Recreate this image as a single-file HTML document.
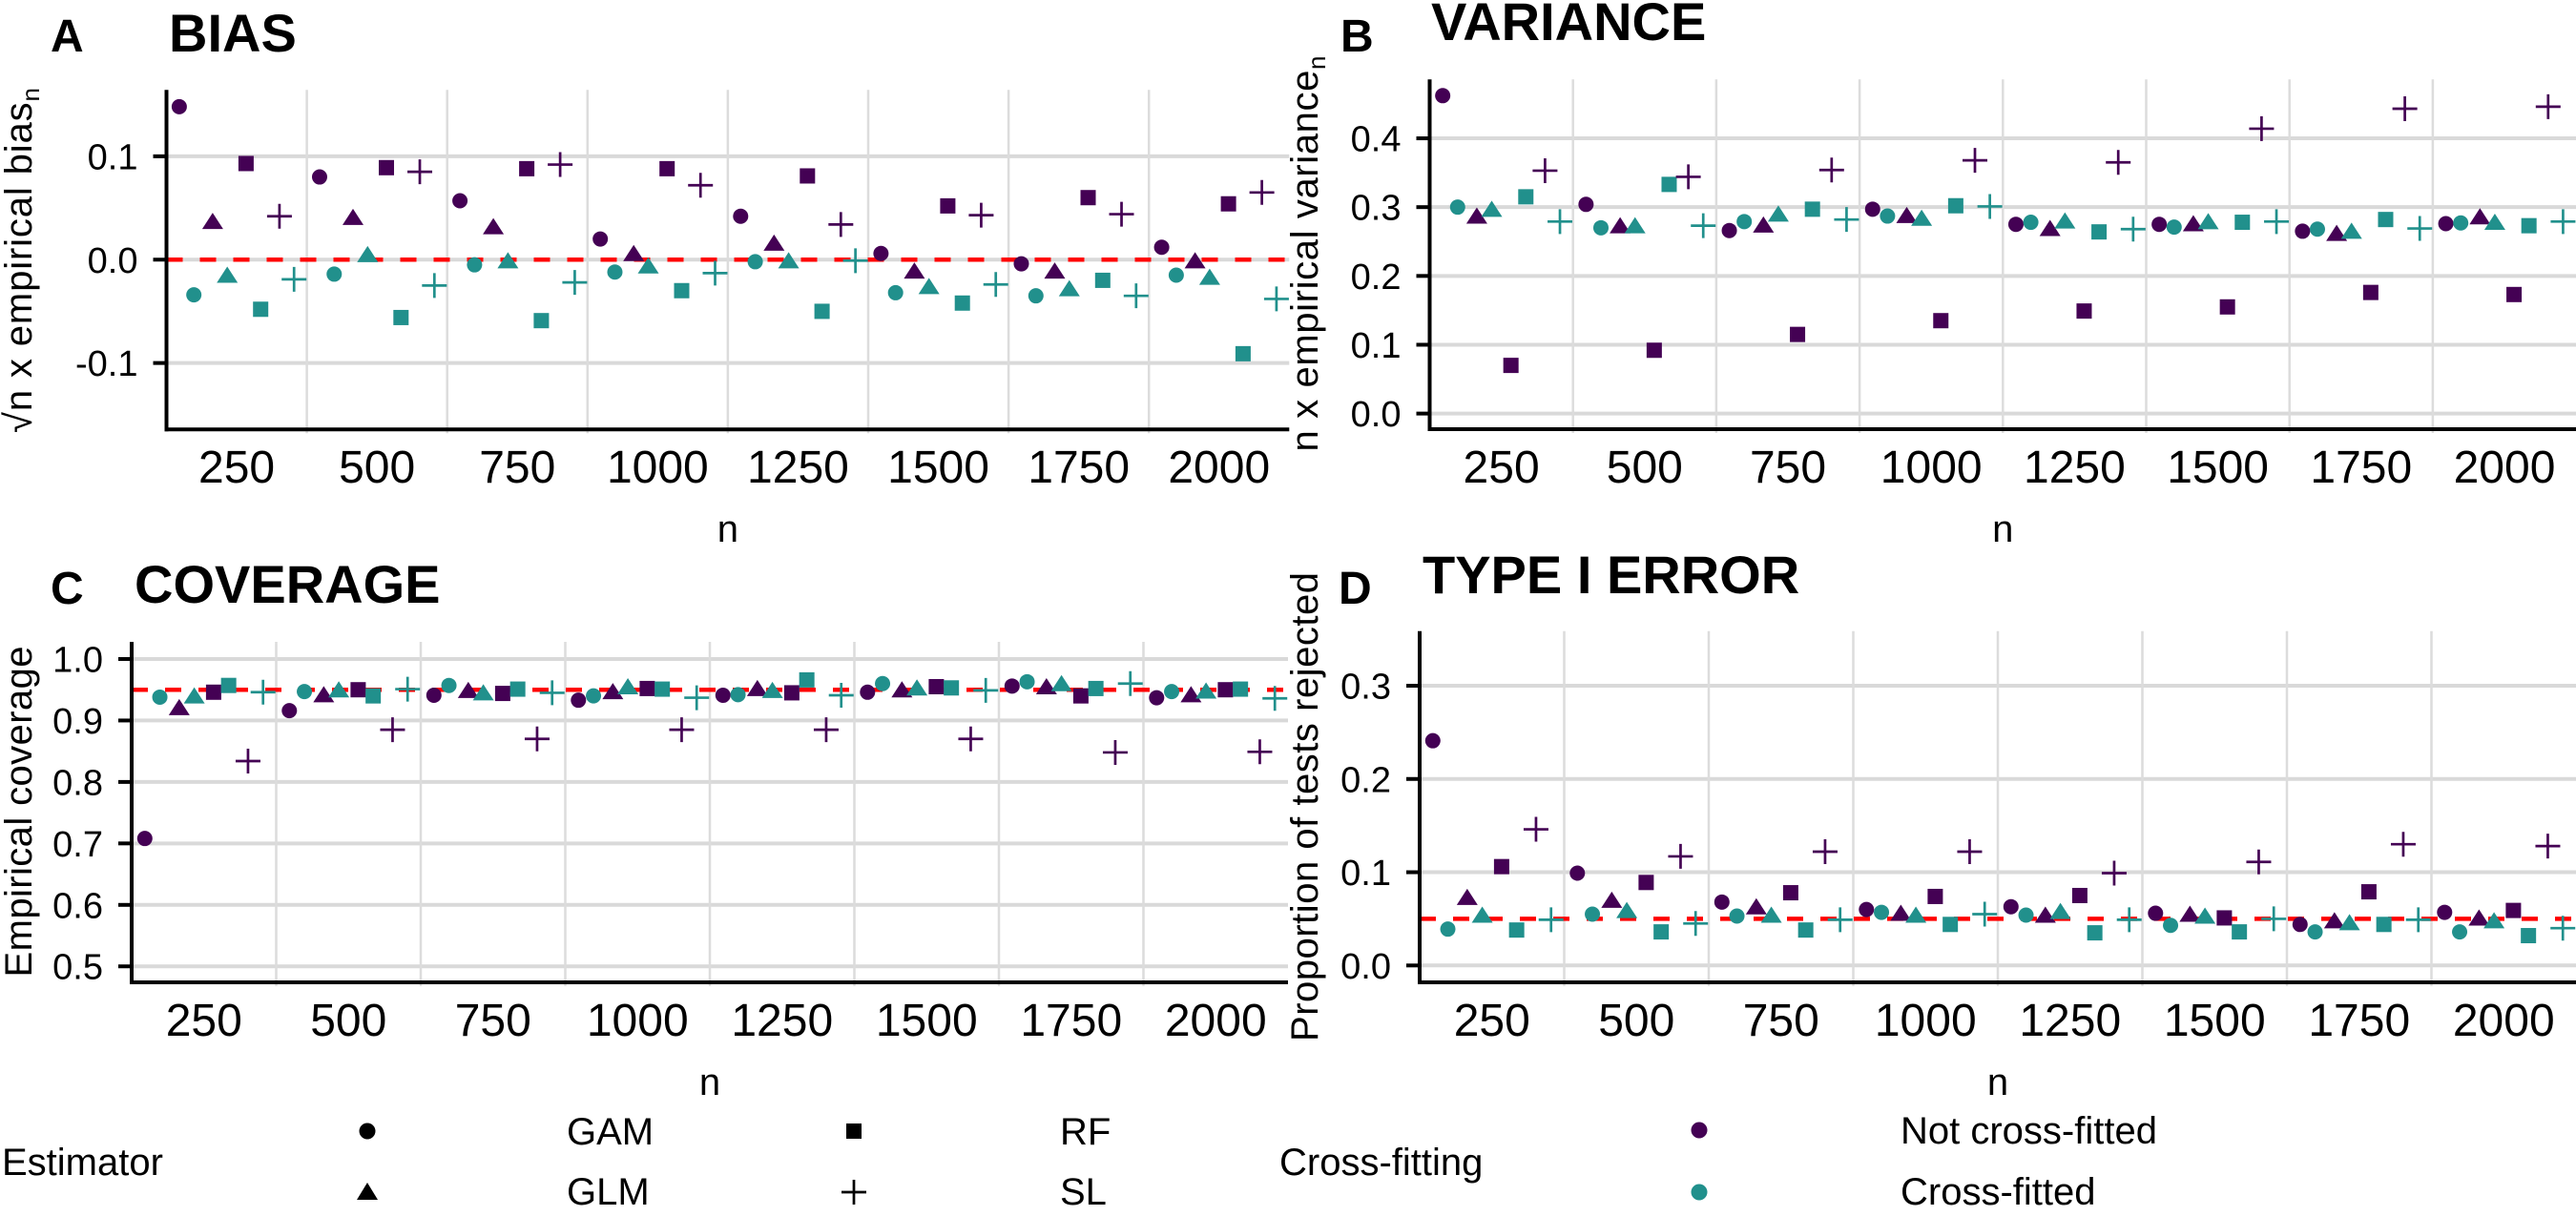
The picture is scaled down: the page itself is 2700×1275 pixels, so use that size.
<!DOCTYPE html>
<html><head><meta charset="utf-8">
<style>
html,body{margin:0;padding:0;background:#fff;}
svg{display:block;font-family:"Liberation Sans",Arial,sans-serif;}
</style></head>
<body>
<svg id="fig" width="2700" height="1275" viewBox="0 0 2700 1275" xmlns="http://www.w3.org/2000/svg">
<rect width="2700" height="1275" fill="#fff"/>
<!-- Panel titles -->
<text x="53" y="54" font-size="48" font-weight="bold">A</text>
<text x="177" y="54" font-size="56" font-weight="bold">BIAS</text>
<text x="1405" y="54" font-size="48" font-weight="bold">B</text>
<text x="1500" y="42" font-size="56" font-weight="bold">VARIANCE</text>
<text x="53" y="633" font-size="48" font-weight="bold">C</text>
<text x="141" y="632" font-size="56" font-weight="bold">COVERAGE</text>
<text x="1403" y="633" font-size="48" font-weight="bold">D</text>
<text x="1491" y="622" font-size="56" font-weight="bold">TYPE I ERROR</text>
<!-- Y axis titles -->
<text transform="translate(33,273) rotate(-90)" text-anchor="middle" font-size="40" textLength="362" lengthAdjust="spacing">√n x empirical bias<tspan font-size="26" dy="8">n</tspan></text>
<text transform="translate(1381,266) rotate(-90)" text-anchor="middle" font-size="40" textLength="415" lengthAdjust="spacing">n x empirical variance<tspan font-size="26" dy="8">n</tspan></text>
<text transform="translate(33,851) rotate(-90)" text-anchor="middle" font-size="40" textLength="347" lengthAdjust="spacing">Empirical coverage</text>
<text transform="translate(1381,846) rotate(-90)" text-anchor="middle" font-size="40" textLength="492" lengthAdjust="spacing">Proportion of tests rejected</text>
<!-- Legend -->
<g>
<text x="2" y="1232" font-size="40">Estimator</text>
<circle cx="385" cy="1186" r="8.5" fill="#000"/>
<text x="594" y="1200" font-size="40">GAM</text>
<polygon points="385,1240 396,1258 374,1258" fill="#000"/>
<text x="594" y="1263" font-size="40">GLM</text>
<rect x="887" y="1178" width="16" height="16" fill="#000"/>
<text x="1111" y="1200" font-size="40">RF</text>
<path d="M882 1250 H908 M895 1237 V1263" stroke="#000" stroke-width="2.7"/>
<text x="1111" y="1263" font-size="40">SL</text>
</g>
<g>
<text x="1341" y="1232" font-size="40">Cross-fitting</text>
<circle cx="1781" cy="1185" r="8.5" fill="#440154"/>
<text x="1992" y="1199" font-size="40">Not cross-fitted</text>
<circle cx="1781" cy="1250" r="8.5" fill="#21908C"/>
<text x="1992" y="1263" font-size="40">Cross-fitted</text>
</g>
</svg>
<script>
const nLabels = [250, 500, 750, 1000, 1250, 1500, 1750, 2000];
const estimators = ['GAM', 'GLM', 'RF', 'SL'];
const fitting = ['not', 'cf'];

// Panel A: bias
const biasGAMnot = [0.148, 0.080, 0.057, 0.020, 0.042, 0.006, -0.004, 0.012];
const biasGAMcf  = [-0.034, -0.014, -0.005, -0.012, -0.002, -0.032, -0.035, -0.015];
const biasGLMnot = [0.037, 0.041, 0.032, 0.006, 0.016, -0.011, -0.011, -0.001];
const biasGLMcf  = [-0.015, 0.005, -0.001, -0.006, -0.001, -0.026, -0.028, -0.017];
const biasRFnot  = [0.093, 0.089, 0.088, 0.088, 0.081, 0.052, 0.060, 0.054];
const biasRFcf   = [-0.048, -0.056, -0.059, -0.030, -0.050, -0.042, -0.020, -0.091];
const biasSLnot  = [0.042, 0.085, 0.092, 0.072, 0.034, 0.043, 0.044, 0.065];
const biasSLcf   = [-0.019, -0.025, -0.022, -0.013, -0.001, -0.024, -0.035, -0.038];
const biasTicks = [-0.1, 0.0, 0.1];

// Panel B: variance
const varGAMnot = [0.462, 0.304, 0.266, 0.297, 0.275, 0.275, 0.265, 0.276];
const varGAMcf  = [0.300, 0.270, 0.279, 0.287, 0.278, 0.271, 0.268, 0.277];
const varGLMnot = [0.287, 0.273, 0.274, 0.288, 0.269, 0.276, 0.262, 0.286];
const varGLMcf  = [0.297, 0.273, 0.290, 0.284, 0.280, 0.279, 0.265, 0.278];
const varRFnot  = [0.070, 0.092, 0.115, 0.135, 0.149, 0.155, 0.176, 0.173];
const varRFcf   = [0.315, 0.333, 0.297, 0.302, 0.264, 0.278, 0.282, 0.273];
const varSLnot  = [0.353, 0.344, 0.354, 0.368, 0.365, 0.414, 0.443, 0.446];
const varSLcf   = [0.279, 0.273, 0.282, 0.301, 0.268, 0.279, 0.269, 0.279];
const varTicks = [0.0, 0.1, 0.2, 0.3, 0.4];

// Panel C: coverage
const covGAMnot = [0.708, 0.916, 0.941, 0.933, 0.941, 0.946, 0.956, 0.937];
const covGAMcf  = [0.938, 0.947, 0.957, 0.940, 0.942, 0.960, 0.963, 0.947];
const covGLMnot = [0.921, 0.942, 0.949, 0.947, 0.952, 0.950, 0.955, 0.942];
const covGLMcf  = [0.940, 0.950, 0.945, 0.955, 0.949, 0.953, 0.960, 0.948];
const covRFnot  = [0.946, 0.950, 0.944, 0.952, 0.945, 0.955, 0.940, 0.950];
const covRFcf   = [0.957, 0.940, 0.951, 0.951, 0.966, 0.953, 0.952, 0.951];
const covSLnot  = [0.834, 0.885, 0.870, 0.885, 0.885, 0.870, 0.848, 0.849];
const covSLcf   = [0.946, 0.951, 0.945, 0.937, 0.941, 0.949, 0.960, 0.936];
const covTicks = [0.5, 0.6, 0.7, 0.8, 0.9, 1.0];

// Panel D: type I error
const t1GAMnot = [0.241, 0.099, 0.068, 0.060, 0.063, 0.056, 0.044, 0.057];
const t1GAMcf  = [0.039, 0.055, 0.053, 0.057, 0.054, 0.043, 0.036, 0.036];
const t1GLMnot = [0.073, 0.070, 0.063, 0.056, 0.054, 0.055, 0.048, 0.051];
const t1GLMcf  = [0.054, 0.059, 0.054, 0.054, 0.058, 0.053, 0.046, 0.048];
const t1RFnot  = [0.106, 0.089, 0.078, 0.074, 0.075, 0.051, 0.079, 0.059];
const t1RFcf   = [0.038, 0.036, 0.038, 0.044, 0.035, 0.036, 0.044, 0.032];
const t1SLnot  = [0.146, 0.117, 0.122, 0.122, 0.099, 0.111, 0.130, 0.128];
const t1SLcf   = [0.049, 0.045, 0.049, 0.055, 0.049, 0.050, 0.049, 0.040];
const t1Ticks = [0.0, 0.1, 0.2, 0.3];

const NS = 'http://www.w3.org/2000/svg';
const svg = document.getElementById('fig');
const COLORS = { not: '#440154', cf: '#21908C' };
const estOffset = [-0.357, -0.119, 0.119, 0.357];
const cfOffset = { not: -0.052, cf: 0.052 };

function mk(tag, attrs, parent) {
  const e = document.createElementNS(NS, tag);
  for (const k in attrs) e.setAttribute(k, attrs[k]);
  (parent || svg).appendChild(e);
  return e;
}

function drawPanel(p) {
  const g = mk('g', {});
  
  
  const x1 = p.x0 + p.gw * nLabels.length;
  const yScale = v => p.bottom - (v - p.ymin) / (p.ymax - p.ymin) * (p.bottom - p.top);
  const xScale = (i, est, cf) => p.x0 + p.gw * (i + 0.5) + p.gw * (estOffset[est] + cfOffset[cf]);

  // horizontal gridlines + y ticks
  p.ticks.forEach(t => {
    const y = yScale(t);
    const gl = mk('line', { x1: p.x0, x2: x1, y1: y, y2: y, stroke: '#d9d9d9', 'stroke-width': 4 }, g);
    
    
    const tk = mk('line', { x1: p.x0 - 14, x2: p.x0, y1: y, y2: y, stroke: '#000', 'stroke-width': 4 }, g);
    
    
    const lb = mk('text', { x: p.x0 - 30, y: y + 13.5, 'text-anchor': 'end', 'font-size': 38 }, g);
    lb.textContent = t.toFixed(1);
    
    
  });
  // vertical gridlines at group boundaries
  for (let i = 1; i < nLabels.length; i++) {
    const x = p.x0 + p.gw * i;
    const vl = mk('line', { x1: x, x2: x, y1: p.top, y2: p.bottom + 4, stroke: '#dcdcdc', 'stroke-width': 2.5 }, g);
    
    
  }
  // x labels
  nLabels.forEach((n, i) => {
    const lb = mk('text', { x: p.x0 + p.gw * (i + 0.5), y: p.bottom + 56, 'text-anchor': 'middle', 'font-size': 48 }, g);
    lb.textContent = n;
    
    
  });
  const xt = mk('text', { x: (p.x0 + x1) / 2, y: p.bottom + 118, 'text-anchor': 'middle', 'font-size': 40 }, g);
  xt.textContent = 'n';
  
  
  // reference line
  if (p.ref !== null) {
    const y = yScale(p.ref);
    const rl = mk('line', { x1: p.x0, x2: x1, y1: y, y2: y, stroke: '#ff0000', 'stroke-width': 4.5, 'stroke-dasharray': '17 18' }, g);
    
    
  }
  // points
  estimators.forEach((est, ei) => {
    fitting.forEach(cf => {
      const vals = p.series[est + cf];
      vals.forEach((v, i) => {
        const cx = xScale(i, ei, cf), cy = yScale(v), col = COLORS[cf];
        let m;
        if (est === 'GAM') m = mk('circle', { cx: cx, cy: cy, r: 8, fill: col }, g);
        else if (est === 'GLM') m = mk('polygon', { points: `${cx},${cy - 9} ${cx + 11},${cy + 8} ${cx - 11},${cy + 8}`, fill: col }, g);
        else if (est === 'RF') m = mk('rect', { x: cx - 8, y: cy - 8, width: 16, height: 16, fill: col }, g);
        else m = mk('path', { d: `M${cx - 13} ${cy} H${cx + 13} M${cx} ${cy - 13} V${cy + 13}`, stroke: col, 'stroke-width': 2.7, fill: 'none' }, g);
        
        
      });
    });
  });
  // axes
  const ya = mk('line', { x1: p.x0, x2: p.x0, y1: p.top, y2: p.bottom + 2, stroke: '#000', 'stroke-width': 4 }, g);
  
  
  const xa = mk('line', { x1: p.x0 - 2, x2: x1, y1: p.bottom, y2: p.bottom, stroke: '#000', 'stroke-width': 4 }, g);
  
  
}

drawPanel({ name: 'bias-panel', x0: 174.5, gw: 147.1, top: 94.3, bottom: 450.2, ymin: -0.1642, ymax: 0.1642, ticks: biasTicks, ref: 0,
  series: { GAMnot: biasGAMnot, GAMcf: biasGAMcf, GLMnot: biasGLMnot, GLMcf: biasGLMcf, RFnot: biasRFnot, RFcf: biasRFcf, SLnot: biasSLnot, SLcf: biasSLcf } });
drawPanel({ name: 'variance-panel', x0: 1498.5, gw: 150.2, top: 83.2, bottom: 450, ymin: -0.0227, ymax: 0.4857, ticks: varTicks, ref: null,
  series: { GAMnot: varGAMnot, GAMcf: varGAMcf, GLMnot: varGLMnot, GLMcf: varGLMcf, RFnot: varRFnot, RFcf: varRFcf, SLnot: varSLnot, SLcf: varSLcf } });
drawPanel({ name: 'coverage-panel', x0: 138, gw: 151.5, top: 673, bottom: 1030, ymin: 0.474, ymax: 1.0279, ticks: covTicks, ref: 0.95,
  series: { GAMnot: covGAMnot, GAMcf: covGAMcf, GLMnot: covGLMnot, GLMcf: covGLMcf, RFnot: covRFnot, RFcf: covRFcf, SLnot: covSLnot, SLcf: covSLcf } });
drawPanel({ name: 'type-i-error-panel', x0: 1488, gw: 151.5, top: 661.7, bottom: 1030, ymin: -0.0181, ymax: 0.3586, ticks: t1Ticks, ref: 0.05,
  series: { GAMnot: t1GAMnot, GAMcf: t1GAMcf, GLMnot: t1GLMnot, GLMcf: t1GLMcf, RFnot: t1RFnot, RFcf: t1RFcf, SLnot: t1SLnot, SLcf: t1SLcf } });
</script>
</body></html>
